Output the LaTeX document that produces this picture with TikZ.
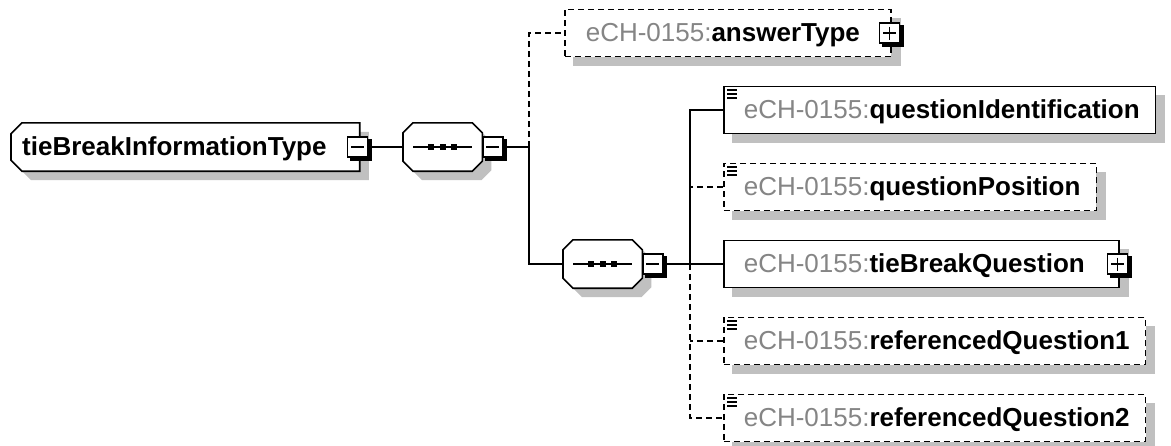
\documentclass[tikz,border=0pt]{standalone}
\usepackage{fontspec}
\setmainfont{Liberation Sans}
\usetikzlibrary{calc}
\pgfdeclarelayer{bg}
\pgfsetlayers{bg,main}
\definecolor{shadowc}{HTML}{C0C0C0}
\definecolor{nsgray}{HTML}{858585}
\newcommand\ns{\textcolor{nsgray}{eCH-0155:}}

% outline of a box whose left / right corners are cut off
\newcommand\chpath[5]{($(#1.north west)+(#2+#4,#5)$) -- ($(#1.north east)+(-#3+#4,#5)$) -- ($(#1.north east)+(#4,#3+#5)$) -- ($(#1.south east)+(#4,-#3+#5)$) -- ($(#1.south east)+(-#3+#4,#5)$) -- ($(#1.south west)+(#2+#4,#5)$) -- ($(#1.south west)+(#4,-#2+#5)$) -- ($(#1.north west)+(#4,#2+#5)$) -- cycle}
\newcommand\chamfshape[3]{%
  \begin{pgfonlayer}{bg}
    \fill[shadowc] \chpath{#1}{#2}{#3}{9}{9};
    \fill[white] \chpath{#1}{#2}{#3}{0}{0};
  \end{pgfonlayer}
  \draw[line width=1.6pt] \chpath{#1}{#2}{#3}{0}{0};}
% grey drop shadow of a rectangular box
\newcommand\eshadow[1]{%
  \begin{pgfonlayer}{bg}
    \fill[shadowc] ($(#1.north west)+(9,9)$) rectangle ($(#1.south east)+(9,9)$);
  \end{pgfonlayer}}
% small "documentation" mark in the upper left corner
\newcommand\docicon[1]{\draw[line width=1.8pt]
  ($(#1.north west)+(4,4)$) -- +(10,0)
  ($(#1.north west)+(4,8)$) -- +(10,0)
  ($(#1.north west)+(4,12)$) -- +(10,0);}
% expand / collapse boxes
\newcommand\pmshade[1]{%
  \fill ($(#1.north east)+(0,3)$) rectangle ($(#1.south east)+(3.5,3.5)$);
  \fill ($(#1.south west)+(3,0)$) rectangle ($(#1.south east)+(3.5,3.5)$);}
\newcommand\minussign[1]{\pmshade{#1}\draw[line width=1.3pt] ($(#1.center)+(-6.5,0)$) -- ($(#1.center)+(6.5,0)$);}
\newcommand\plussign[1]{\minussign{#1}\draw[line width=1.3pt] ($(#1.center)+(0,-6.5)$) -- ($(#1.center)+(0,6.5)$);}
% sequence compositor symbol
\newcommand\seqicon[1]{%
  \draw[line width=1.3pt] ($(#1.west)+(10,0)$) -- ($(#1.east)+(-10,0)$);
  \foreach \q in {-11.5,0,11.5} \fill ($(#1.center)+(\q-3,-3)$) rectangle +(6,6);}

\tikzset{
  conn/.style={line width=1.6pt},
  optconn/.style={line width=1.6pt, dash pattern=on 6pt off 4pt},
  elem/.style={rectangle, draw, fill=white, line width=1.6pt, anchor=west,
    minimum height=47pt, inner sep=0pt, text height=17pt, text depth=0pt,
    font=\fontsize{26}{30}\selectfont},
  optelem/.style={elem, dash pattern=on 6pt off 4pt},
  typebox/.style={rectangle, anchor=west, minimum height=48pt, inner sep=0pt,
    text height=17pt, text depth=0pt, font=\fontsize{26}{30}\selectfont},
  seqbox/.style={rectangle, anchor=west, minimum width=79pt, minimum height=48pt, inner sep=0pt},
  pmbox/.style={rectangle, draw, fill=white, line width=1.3pt, minimum size=20pt, inner sep=0pt},
}

\begin{document}
\begin{tikzpicture}[x=1pt,y=-1pt]
\useasboundingbox (0,0) rectangle (1171,445);
\begin{pgfonlayer}{bg}
  \fill[white] (0,0) rectangle (1171,445);
\end{pgfonlayer}

% complex type
\node[typebox] (tbi) at (11,147) {\hspace*{11pt}\textbf{tieBreakInformationType}\hspace*{33pt}};
\chamfshape{tbi}{11}{0}
\node[pmbox] (tbipm) at ($(tbi.east)+(-2,0)$) {};
\minussign{tbipm}

% outer sequence
\node[seqbox] (s1) at (403,147) {};
\chamfshape{s1}{10}{10}
\seqicon{s1}
\node[pmbox] (s1pm) at ($(s1.east)+(10.5,0)$) {};
\minussign{s1pm}
\coordinate (j1) at (529,147);

% optional answer type
\node[optelem] (at) at (564,33) {\hspace*{21pt}\ns\textbf{answerType}\hspace*{31pt}};
\eshadow{at}
\node[pmbox] (atpm) at ($(at.east)+(-2,0)$) {};
\plussign{atpm}

% inner sequence
\node[seqbox] (s2) at (563,264) {};
\chamfshape{s2}{10}{10}
\seqicon{s2}
\node[pmbox] (s2pm) at ($(s2.east)+(10.5,0)$) {};
\minussign{s2pm}
\coordinate (j2) at (690,264);

% child elements
\node[elem] (qi) at (723,110) {\hspace*{20pt}\ns\textbf{questionIdentification}\hspace*{16pt}};
\eshadow{qi}\docicon{qi}
\node[optelem] (qp) at (723,187) {\hspace*{20pt}\ns\textbf{questionPosition}\hspace*{16pt}};
\eshadow{qp}\docicon{qp}
\node[elem] (tbq) at (723,264) {\hspace*{20pt}\ns\textbf{tieBreakQuestion}\hspace*{34pt}};
\eshadow{tbq}
\node[pmbox] (tbqpm) at ($(tbq.east)+(-2,0)$) {};
\plussign{tbqpm}
\node[optelem] (rq1) at (723,341) {\hspace*{20pt}\ns\textbf{referencedQuestion1}\hspace*{16pt}};
\eshadow{rq1}\docicon{rq1}
\node[optelem] (rq2) at (723,418) {\hspace*{20pt}\ns\textbf{referencedQuestion2}\hspace*{16pt}};
\eshadow{rq2}\docicon{rq2}

% connectors
\draw[conn] (tbipm.east) -- (s1.west);
\draw[conn] (s1pm.east) -- (j1) |- (s2.west);
\draw[optconn] (j1) |- (at.west);
\draw[conn] (s2pm.east) -- (tbq.west);
\draw[conn] (qi.west) -| (j2);
\draw[optconn] (j2) |- (rq2.west);
\draw[optconn] (qp.west) -- (qp.west -| j2);
\draw[optconn] (rq1.west) -- (rq1.west -| j2);
\end{tikzpicture}
\end{document}
